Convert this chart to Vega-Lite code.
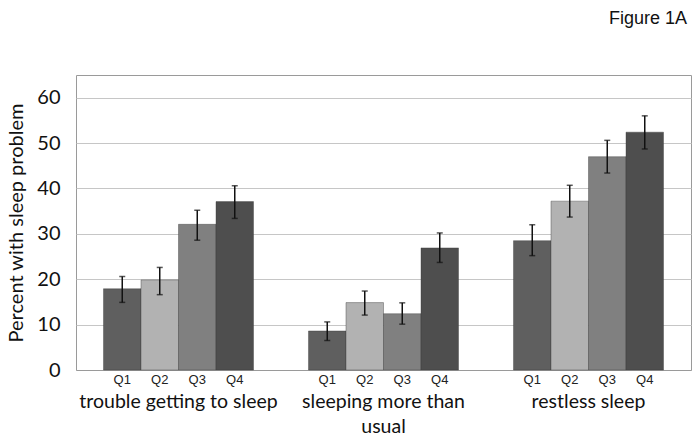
{
  "$schema": "https://vega.github.io/schema/vega-lite/v6.json",
  "width": 615,
  "height": 295,
  "autosize": "none",
  "padding": {"left": 76, "top": 75, "right": 8, "bottom": 70},
  "background": "white",
  "title": {
    "text": "Figure 1A",
    "anchor": "end",
    "orient": "top",
    "font": "Liberation Sans",
    "fontSize": 18,
    "fontWeight": "normal",
    "color": "#111111",
    "offset": 47,
    "dx": -4
  },
  "config": {
    "view": {"stroke": "#9a9a9a", "strokeWidth": 1},
    "axis": {"labelFont": "Lato", "titleFont": "Lato"}
  },
  "data": {
    "values": [
      {"problem": "trouble getting to sleep", "q": "Q1", "pct": 17.9, "lo": 14.9, "hi": 20.6},
      {"problem": "trouble getting to sleep", "q": "Q2", "pct": 19.85, "lo": 16.6, "hi": 22.6},
      {"problem": "trouble getting to sleep", "q": "Q3", "pct": 32.1, "lo": 28.6, "hi": 35.2},
      {"problem": "trouble getting to sleep", "q": "Q4", "pct": 37.1, "lo": 33.4, "hi": 40.6},
      {"problem": "sleeping more than usual", "q": "Q1", "pct": 8.6, "lo": 6.5, "hi": 10.6},
      {"problem": "sleeping more than usual", "q": "Q2", "pct": 14.85, "lo": 12.1, "hi": 17.4},
      {"problem": "sleeping more than usual", "q": "Q3", "pct": 12.4, "lo": 10.1, "hi": 14.8},
      {"problem": "sleeping more than usual", "q": "Q4", "pct": 26.9, "lo": 23.7, "hi": 30.2},
      {"problem": "restless sleep", "q": "Q1", "pct": 28.5, "lo": 25.2, "hi": 32.0},
      {"problem": "restless sleep", "q": "Q2", "pct": 37.2, "lo": 33.7, "hi": 40.7},
      {"problem": "restless sleep", "q": "Q3", "pct": 47.0, "lo": 43.4, "hi": 50.6},
      {"problem": "restless sleep", "q": "Q4", "pct": 52.4, "lo": 48.7, "hi": 56.0}
    ]
  },
  "encoding": {
    "x": {
      "field": "problem",
      "type": "nominal",
      "sort": null,
      "scale": {"paddingInner": 0, "paddingOuter": 0},
      "axis": {
        "title": null,
        "labelAngle": 0,
        "labelFontSize": 19.5,
        "labelColor": "#111111",
        "labelPadding": 22,
        "labelLineHeight": 25,
        "labelBaseline": "top",
        "labelLimit": 0,
        "ticks": false,
        "domainColor": "#9a9a9a",
        "labelExpr": "datum.value == 'sleeping more than usual' ? ['sleeping more than', 'usual'] : datum.value"
      }
    },
    "xOffset": {
      "field": "q",
      "type": "nominal",
      "sort": null,
      "scale": {"paddingInner": 0, "paddingOuter": 0.733}
    }
  },
  "layer": [
    {
      "mark": {"type": "bar", "stroke": "#3a3a3a", "strokeWidth": 0.4},
      "encoding": {
        "y": {
          "field": "pct",
          "type": "quantitative",
          "scale": {"domain": [0, 65], "nice": false},
          "axis": {
            "title": "Percent with sleep problem",
            "titleFontSize": 20,
            "titleFontWeight": "normal",
            "titleColor": "#111111",
            "titlePadding": 10,
            "values": [0, 10, 20, 30, 40, 50, 60],
            "labelFontSize": 20,
            "labelColor": "#111111",
            "labelPadding": 16,
            "ticks": false,
            "domain": false,
            "gridColor": "#c6c6c6",
            "gridWidth": 1
          }
        },
        "color": {
          "field": "q",
          "type": "nominal",
          "scale": {"domain": ["Q1", "Q2", "Q3", "Q4"], "range": ["#5f5f5f", "#b2b2b2", "#808080", "#4e4e4e"]},
          "legend": null
        }
      }
    },
    {
      "mark": {"type": "rule", "color": "#111111", "strokeWidth": 1.5},
      "encoding": {
        "y": {"field": "lo", "type": "quantitative"},
        "y2": {"field": "hi"}
      }
    },
    {
      "mark": {"type": "tick", "color": "#111111", "thickness": 1.5, "size": 6, "orient": "horizontal"},
      "encoding": {"y": {"field": "hi", "type": "quantitative"}}
    },
    {
      "mark": {"type": "tick", "color": "#111111", "thickness": 1.5, "size": 6, "orient": "horizontal"},
      "encoding": {"y": {"field": "lo", "type": "quantitative"}}
    },
    {
      "mark": {"type": "text", "font": "Liberation Sans", "fontSize": 13, "color": "#222222", "baseline": "top", "dy": 4},
      "encoding": {
        "y": {"datum": 0, "type": "quantitative"},
        "text": {"field": "q"}
      }
    }
  ]
}
